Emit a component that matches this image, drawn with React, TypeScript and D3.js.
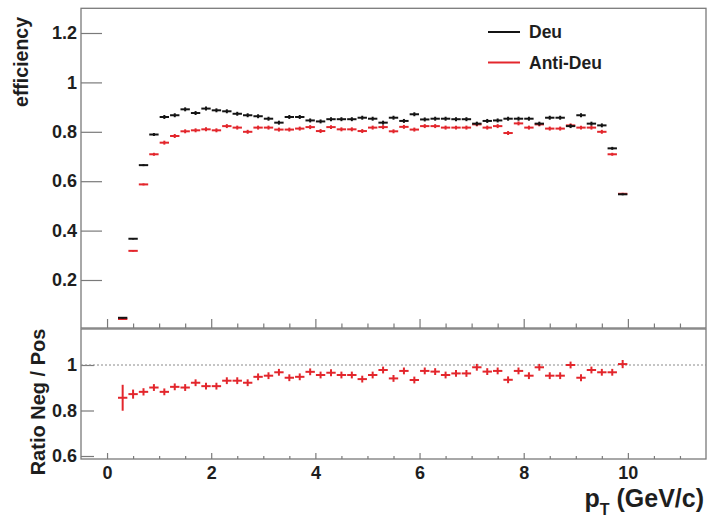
import React, { useEffect, useRef } from "react";
import * as d3 from "d3";

// bin centres in pT (GeV/c)
const pT = [0.3, 0.5, 0.7, 0.9, 1.1, 1.3, 1.5, 1.7, 1.9, 2.1, 2.3, 2.5, 2.7, 2.9, 3.1, 3.3, 3.5, 3.7, 3.9, 4.1, 4.3, 4.5, 4.7, 4.9, 5.1, 5.3, 5.5, 5.7, 5.9, 6.1, 6.3, 6.5, 6.7, 6.9, 7.1, 7.3, 7.5, 7.7, 7.9, 8.1, 8.3, 8.5, 8.7, 8.9, 9.1, 9.3, 9.5, 9.7, 9.9];

const deu = [0.047, 0.367, 0.665, 0.789, 0.86, 0.867, 0.891, 0.876, 0.894, 0.887, 0.883, 0.873, 0.867, 0.863, 0.853, 0.837, 0.86, 0.86, 0.846, 0.842, 0.851, 0.851, 0.851, 0.857, 0.853, 0.837, 0.857, 0.844, 0.871, 0.85, 0.853, 0.853, 0.851, 0.851, 0.833, 0.844, 0.846, 0.853, 0.853, 0.853, 0.833, 0.857, 0.857, 0.823, 0.867, 0.833, 0.826, 0.733, 0.547];

const antiDeu = [0.042, 0.318, 0.587, 0.709, 0.756, 0.783, 0.802, 0.806, 0.81, 0.806, 0.823, 0.817, 0.8, 0.817, 0.817, 0.809, 0.809, 0.813, 0.819, 0.803, 0.819, 0.81, 0.81, 0.803, 0.817, 0.819, 0.802, 0.82, 0.809, 0.823, 0.823, 0.817, 0.817, 0.817, 0.83, 0.817, 0.823, 0.795, 0.834, 0.817, 0.83, 0.813, 0.813, 0.826, 0.817, 0.817, 0.8, 0.709, 0.549];

const effErr = [0.003, 0.003, 0.004, 0.006, 0.008, 0.008, 0.008, 0.008, 0.008, 0.008, 0.008, 0.008, 0.008, 0.008, 0.008, 0.008, 0.008, 0.008, 0.008, 0.008, 0.008, 0.008, 0.008, 0.008, 0.008, 0.008, 0.008, 0.008, 0.008, 0.008, 0.008, 0.008, 0.008, 0.008, 0.008, 0.008, 0.008, 0.008, 0.008, 0.008, 0.008, 0.008, 0.008, 0.008, 0.008, 0.008, 0.008, 0.006, 0.004];

const ratio = [0.856, 0.872, 0.882, 0.901, 0.882, 0.904, 0.901, 0.922, 0.907, 0.907, 0.931, 0.931, 0.922, 0.948, 0.953, 0.968, 0.944, 0.948, 0.97, 0.956, 0.966, 0.956, 0.956, 0.938, 0.956, 0.978, 0.941, 0.974, 0.934, 0.974, 0.971, 0.956, 0.963, 0.963, 0.99, 0.971, 0.974, 0.935, 0.974, 0.953, 0.99, 0.953, 0.953, 1.0, 0.944, 0.978, 0.968, 0.968, 1.004];

const ratioErr = [0.057, 0.02, 0.016, 0.015, 0.015, 0.015, 0.015, 0.015, 0.015, 0.015, 0.015, 0.015, 0.015, 0.015, 0.015, 0.015, 0.015, 0.015, 0.015, 0.015, 0.015, 0.015, 0.015, 0.015, 0.015, 0.015, 0.015, 0.015, 0.015, 0.015, 0.015, 0.015, 0.015, 0.015, 0.015, 0.015, 0.015, 0.015, 0.015, 0.015, 0.015, 0.015, 0.015, 0.015, 0.015, 0.015, 0.015, 0.015, 0.018];

const effTicks = [0.2, 0.4, 0.6, 0.8, 1, 1.2];
const ratioTicks = [0.6, 0.8, 1];
const xMajorTicks = [0, 2, 4, 6, 8, 10];
const legendLabels = ["Deu", "Anti-Deu"];

const W = 707;
const H = 527;
const FONT = "'Liberation Sans', Arial, Helvetica, sans-serif";
const BLACK = "#141414";
const RED = "#e3262c";
const FRAME = "#7a7a7a";

export default function App() {
  const ref = useRef<SVGSVGElement>(null);

  useEffect(() => {
    const svg = d3.select(ref.current);
    svg.selectAll("*").remove();

    const L = 81;
    const R = 706;
    const topT = 8.3;
    const topB = 328;
    const botT = 329;
    const botB = 459;

    const x = d3.scaleLinear().domain([-0.5, 11.5]).range([L, R]);
    const yTop = d3.scaleLinear().domain([0, 1.3]).range([329.4, topT]);
    const yR = d3.scaleLinear().domain([0.6, 1]).range([456, 365]);

    svg.append("rect").attr("width", W).attr("height", H).attr("fill", "#fff");

    const minor = x.ticks(24).filter((v) => v > -0.5 && v < 11.5 && Math.abs(v % 2) > 1e-9);

    const styleAxis = (g: any, fs = 18) => {
      g.select(".domain").remove();
      g.selectAll(".tick line").attr("stroke", FRAME).attr("stroke-width", 1.2);
      g.selectAll(".tick text")
        .attr("fill", "#1e1e1e")
        .style("font-family", FONT)
        .style("font-size", fs + "px")
        .style("font-weight", "bold");
    };

    // ---- top panel axes
    const gy = svg.append("g").attr("transform", `translate(${L},0)`)
      .call(d3.axisLeft(yTop).tickValues(effTicks).tickSize(-21).tickPadding(4).tickFormat(d3.format("~g") as any));
    styleAxis(gy);

    const gxTop = svg.append("g").attr("transform", `translate(0,${topB})`)
      .call(d3.axisBottom(x).tickValues(xMajorTicks).tickSize(-9).tickFormat(() => ""));
    styleAxis(gxTop);
    const gxTopMinor = svg.append("g").attr("transform", `translate(0,${topB})`)
      .call(d3.axisBottom(x).tickValues(minor).tickSize(-4.5).tickFormat(() => ""));
    styleAxis(gxTopMinor);

    // ---- ratio axes
    const gyR = svg.append("g").attr("transform", `translate(${L},0)`)
      .call(d3.axisLeft(yR).tickValues(ratioTicks).tickSize(-13).tickPadding(4).tickFormat(d3.format("~g") as any));
    styleAxis(gyR);

    const gxB = svg.append("g").attr("transform", `translate(0,${botB})`)
      .call(d3.axisBottom(x).tickValues(xMajorTicks).tickSize(-6).tickPadding(7).tickFormat(d3.format("d") as any));
    styleAxis(gxB);
    const gxBMinor = svg.append("g").attr("transform", `translate(0,${botB})`)
      .call(d3.axisBottom(x).tickValues(minor).tickSize(-3).tickFormat(() => ""));
    styleAxis(gxBMinor);

    // frames
    svg.append("rect").attr("x", L).attr("y", topT).attr("width", R - L).attr("height", topB - topT)
      .attr("fill", "none").attr("stroke", FRAME).attr("stroke-width", 1.3);
    svg.append("rect").attr("x", L).attr("y", botT).attr("width", R - L).attr("height", botB - botT)
      .attr("fill", "none").attr("stroke", FRAME).attr("stroke-width", 1.3);

    // dotted reference line at 1
    svg.append("line").attr("x1", L).attr("x2", R).attr("y1", yR(1)).attr("y2", yR(1))
      .attr("stroke", "#8a8a8a").attr("stroke-width", 1).attr("stroke-dasharray", "2,2");

    const hw = 0.09;
    const drawErr = (vals: number[], errs: number[], yS: any, color: string, sw: number) => {
      const g = svg.append("g").attr("stroke", color).attr("stroke-width", sw);
      pT.forEach((p, i) => {
        const v = vals[i];
        if (v == null) return;
        g.append("line").attr("x1", x(p - hw)).attr("x2", x(p + hw)).attr("y1", yS(v)).attr("y2", yS(v));
        g.append("line").attr("x1", x(p)).attr("x2", x(p)).attr("y1", yS(v - errs[i])).attr("y2", yS(v + errs[i]));
      });
    };

    drawErr(antiDeu, effErr, yTop, RED, 2);
    drawErr(deu, effErr, yTop, BLACK, 2);
    drawErr(ratio, ratioErr, yR, RED, 2);

    // legend
    const legColors = [BLACK, RED];
    legendLabels.forEach((lab, i) => {
      const ly = 32 + i * 30.5;
      svg.append("line").attr("x1", 488).attr("x2", 520).attr("y1", ly).attr("y2", ly)
        .attr("stroke", legColors[i]).attr("stroke-width", 2);
      svg.append("text").attr("x", 529).attr("y", ly + 6.2).text(lab)
        .attr("fill", "#1e1e1e").style("font-family", FONT).style("font-size", "17.5px").style("font-weight", "bold");
    });

    // axis titles
    svg.append("text").attr("transform", "translate(28,17) rotate(-90)").attr("text-anchor", "end")
      .text("efficiency").attr("fill", "#1e1e1e")
      .style("font-family", FONT).style("font-size", "19.5px").style("font-weight", "bold");

    svg.append("text").attr("transform", "translate(45,402) rotate(-90)").attr("text-anchor", "middle")
      .text("Ratio Neg / Pos").attr("fill", "#1e1e1e")
      .style("font-family", FONT).style("font-size", "20px").style("font-weight", "bold");

    const pt = svg.append("text").attr("x", 704).attr("y", 507).attr("text-anchor", "end")
      .attr("fill", "#1e1e1e").style("font-family", FONT).style("font-size", "25px").style("font-weight", "bold");
    pt.append("tspan").text("p");
    pt.append("tspan").text("T").attr("dy", 8).style("font-size", "16px");
    pt.append("tspan").text(" (GeV/c)").attr("dy", -8);
  }, []);

  return (
    <svg
      ref={ref}
      width={W}
      height={H}
      style={{ position: "absolute", left: 0, top: 0, display: "block" }}
    />
  );
}
